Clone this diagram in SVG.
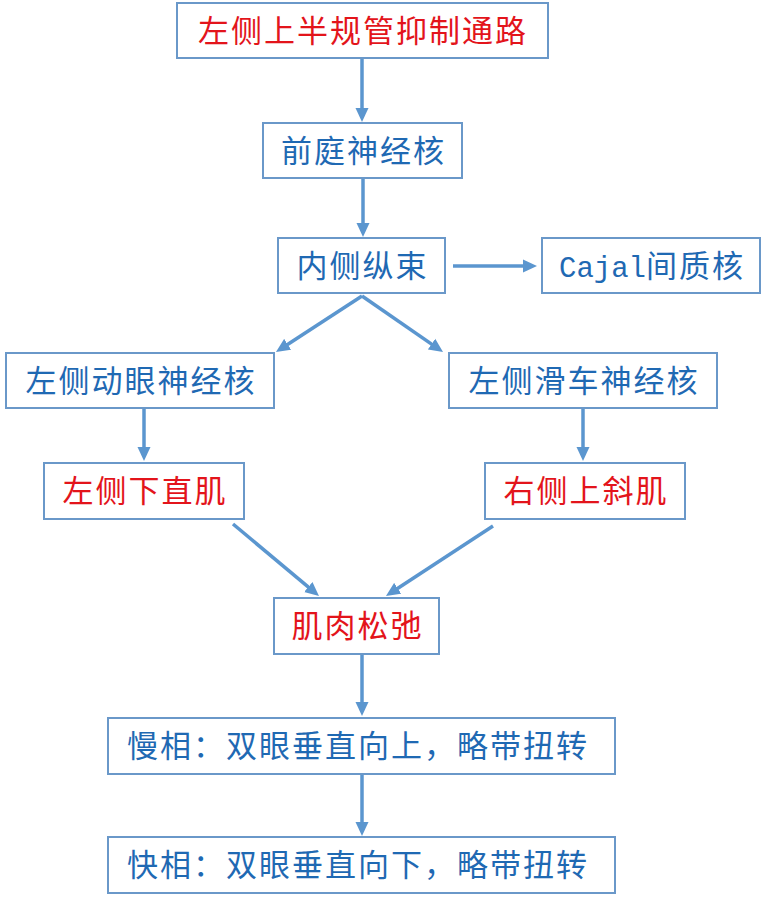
<svg xmlns="http://www.w3.org/2000/svg" width="763" height="905" viewBox="0 0 763 905">
<defs>
<style>
.box{fill:#ffffff;stroke:#6A98C9;stroke-width:2}
.t{font-family:"Noto Sans CJK SC","Noto Sans",sans-serif;font-size:31px;letter-spacing:2px;text-anchor:middle}
.blue{fill:#1F69B3}
.red{fill:#E3141B}
.mono{font-family:"Liberation Mono",monospace;font-size:29px;letter-spacing:0}
.c{fill:none;stroke:#5B96CF;stroke-width:3.5;marker-end:url(#ah)}
</style>
<marker id="ah" viewBox="0 0 14 14" refX="8" refY="7" markerWidth="14" markerHeight="14" markerUnits="userSpaceOnUse" orient="auto">
<path d="M0,0.5 L14,7 L0,13.5 z" fill="#5B96CF"/>
</marker>
</defs>
<rect width="763" height="905" fill="#ffffff"/>
<g id="connectors">
<line class="c" x1="362" y1="58" x2="362" y2="116"/>
<line class="c" x1="363" y1="178" x2="363" y2="231"/>
<line class="c" x1="453" y1="266" x2="531" y2="266"/>
<line class="c" x1="362" y1="296" x2="281" y2="348.7"/>
<line class="c" x1="362" y1="296" x2="438.1" y2="348.6"/>
<line class="c" x1="144" y1="409" x2="144" y2="455"/>
<line class="c" x1="583" y1="409" x2="583" y2="455"/>
<line class="c" x1="233" y1="524" x2="314.4" y2="592.2"/>
<line class="c" x1="493" y1="526" x2="391" y2="592.7"/>
<line class="c" x1="362" y1="654" x2="362" y2="710"/>
<line class="c" x1="362" y1="774" x2="362" y2="830"/>
</g>
<g id="n1"><rect class="box" x="177" y="3" width="371" height="55"/><text class="t red" x="363" y="42">左侧上半规管抑制通路</text></g>
<g id="n2"><rect class="box" x="263" y="123" width="199" height="55"/><text class="t blue" x="363.5" y="162">前庭神经核</text></g>
<g id="n3"><rect class="box" x="278" y="238" width="167" height="55"/><text class="t blue" x="362.5" y="277">内侧纵束</text></g>
<g id="n4"><rect class="box" x="542" y="238" width="218" height="55"/><text class="t blue" x="652" y="277"><tspan class="mono">Cajal</tspan>间质核</text></g>
<g id="n5"><rect class="box" x="6" y="353" width="268" height="55"/><text class="t blue" x="141" y="392">左侧动眼神经核</text></g>
<g id="n6"><rect class="box" x="449" y="353" width="268" height="55"/><text class="t blue" x="584" y="392">左侧滑车神经核</text></g>
<g id="n7"><rect class="box" x="44" y="463" width="200" height="56"/><text class="t red" x="145" y="502">左侧下直肌</text></g>
<g id="n8"><rect class="box" x="485" y="463" width="200" height="56"/><text class="t red" x="586" y="502">右侧上斜肌</text></g>
<g id="n9"><rect class="box" x="274" y="598" width="165" height="56"/><text class="t red" x="357.5" y="637">肌肉松弛</text></g>
<g id="n10"><rect class="box" x="108" y="718" width="507" height="56"/><text class="t blue" x="358" y="757">慢相：双眼垂直向上，略带扭转</text></g>
<g id="n11"><rect class="box" x="108" y="837" width="507" height="56"/><text class="t blue" x="358" y="876">快相：双眼垂直向下，略带扭转</text></g>
</svg>
